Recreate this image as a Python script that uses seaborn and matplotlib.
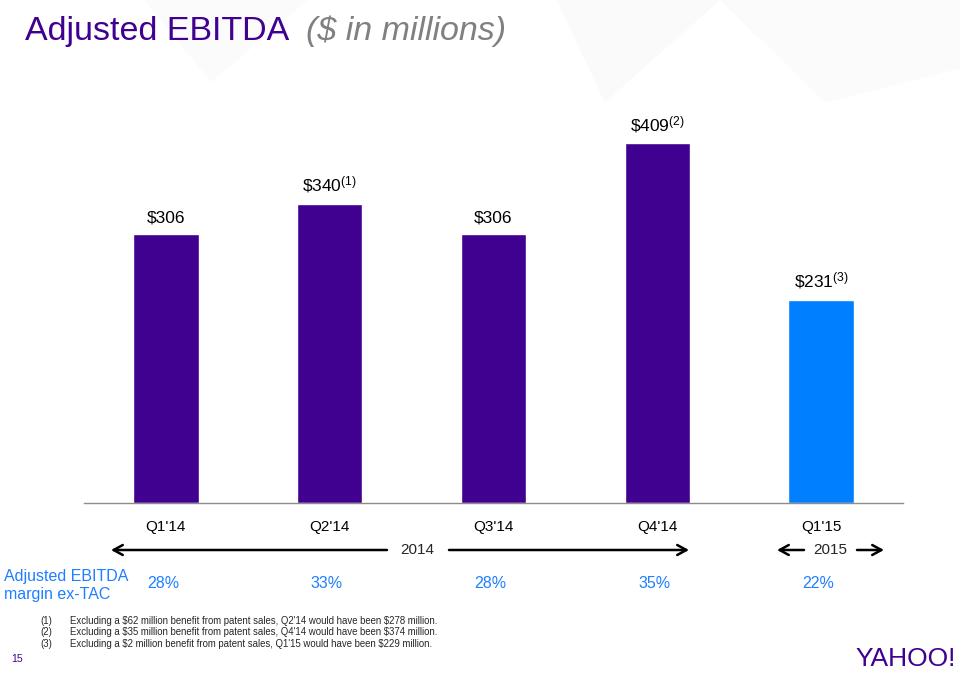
import matplotlib
matplotlib.use("Agg")
import matplotlib.pyplot as plt
import seaborn as sns
import pandas as pd
from matplotlib.patches import Polygon

quarters = ["Q1'14", "Q2'14", "Q3'14", "Q4'14", "Q1'15"]
ebitda = [306, 340, 306, 409, 231]
footnote_marks = ["", "(1)", "", "(2)", "(3)"]
years = ["2014", "2014", "2014", "2014", "2015"]
margins = ["28%", "33%", "28%", "35%", "22%"]
footnotes = [
    ("(1)", "Excluding a $62 million benefit from patent sales, Q2'14 would have been $278 million."),
    ("(2)", "Excluding a $35 million benefit from patent sales, Q4'14 would have been $374 million."),
    ("(3)", "Excluding a $2 million benefit from patent sales, Q1'15 would have been $229 million."),
]

PURPLE = "#400090"
BLUE = "#0080FF"
TXTBLUE = "#1E7FFF"

sns.set_theme(style="white")
plt.rcParams["font.family"] = ["Liberation Sans", "DejaVu Sans"]
plt.rcParams["mathtext.default"] = "regular"

df = pd.DataFrame({"quarter": quarters, "ebitda": ebitda, "year": years})

fig = plt.figure(figsize=(9.6, 6.83), dpi=100)
fig.patch.set_facecolor("white")

# very faint background facets
for pts, c in [
    ([(0.58, 1.0), (0.75, 1.0), (0.63, 0.85)], "#fafafa"),
    ([(0.75, 1.0), (1.0, 1.0), (1.0, 0.90), (0.86, 0.85)], "#fbfbfb"),
    ([(0.15, 1.0), (0.32, 1.0), (0.22, 0.88)], "#fbfbfb"),
]:
    fig.patches.append(Polygon(pts, closed=True, transform=fig.transFigure,
                               facecolor=c, edgecolor="none", zorder=-5))

ax = fig.add_axes([84 / 960, 1 - 503 / 683, (903 - 84) / 960, (503 - 98) / 683])
ax.patch.set_alpha(0)
sns.barplot(data=df, x="quarter", y="ebitda", hue="year",
            palette={"2014": PURPLE, "2015": BLUE}, width=0.4,
            dodge=False, legend=False, ax=ax, saturation=1)
ax.set_ylim(0, 460)
ax.set_xlim(-0.5, len(quarters) - 0.5)
for s in ["top", "right", "left"]:
    ax.spines[s].set_visible(False)
ax.spines["bottom"].set_color("#8c8c8c")
ax.spines["bottom"].set_linewidth(1.0)
ax.set_yticks([])
ax.set_xlabel("")
ax.set_ylabel("")
ax.set_xticks(range(len(quarters)))
ax.set_xticklabels(quarters, fontsize=11, color="black")
ax.tick_params(axis="x", which="major", length=0, pad=12)
ax.set_xticks([i - 0.5 for i in range(len(quarters) + 1)], minor=True)
ax.tick_params(axis="x", which="minor", length=6, width=1.0, color="#8c8c8c",
               direction="out")

for i, (v, m) in enumerate(zip(ebitda, footnote_marks)):
    label = r"\$%d" % v
    if m:
        label += r"$^{%s}$" % m
    ax.annotate(label, (i, v), xytext=(0, 6), textcoords="offset points",
                ha="center", va="bottom", fontsize=12.5, color="black")

# overlay axes in pixel coordinates for slide annotations
ax_ann = fig.add_axes([0, 0, 1, 1], facecolor="none")
ax_ann.set_xlim(0, 960)
ax_ann.set_ylim(683, 0)
ax_ann.axis("off")

aprops = dict(arrowstyle="->,head_length=0.55,head_width=0.3",
              color="black", lw=1.8, shrinkA=0, shrinkB=0)
ax_ann.annotate("", xy=(111, 550), xytext=(387, 550), arrowprops=aprops)
ax_ann.annotate("", xy=(689, 550), xytext=(449, 550), arrowprops=aprops)
ax_ann.text(417, 550, "2014", ha="center", va="center", fontsize=11)
ax_ann.annotate("", xy=(777, 550), xytext=(804, 550), arrowprops=aprops)
ax_ann.annotate("", xy=(884, 550), xytext=(857, 550), arrowprops=aprops)
ax_ann.text(830, 550, "2015", ha="center", va="center", fontsize=11)

# margin row
ax_ann.text(4, 586, "Adjusted EBITDA\nmargin ex-TAC", ha="left", va="center",
            fontsize=11.5, color=TXTBLUE, linespacing=1.25)
for i, pct in enumerate(margins):
    xc = ax.transData.transform((i, 0))[0]
    ax_ann.text(xc * 960 / fig.bbox.width - 3, 584, pct, ha="center",
                va="center", fontsize=11.5, color=TXTBLUE)

# title
ax_ann.text(25, 40, "Adjusted EBITDA", fontsize=24.5, color=PURPLE,
            ha="left", va="baseline")
ax_ann.text(306, 40, "($ in millions)", fontsize=24.5, color="#808080",
            style="italic", ha="left", va="baseline", parse_math=False)

# footnotes
for j, (mk, txt) in enumerate(footnotes):
    yy = [621, 632, 644][j]
    ax_ann.text(40, yy, mk, fontsize=6.9, ha="left", va="center")
    ax_ann.text(70, yy, txt, fontsize=6.9, ha="left", va="center",
                parse_math=False)

ax_ann.text(11, 659, "15", fontsize=7.5, color=PURPLE, ha="left", va="center")
ax_ann.text(956, 659, "YAHOO!", fontsize=19, color=PURPLE, ha="right",
            va="center")

fig.savefig("out.png", dpi=100, facecolor="white")
